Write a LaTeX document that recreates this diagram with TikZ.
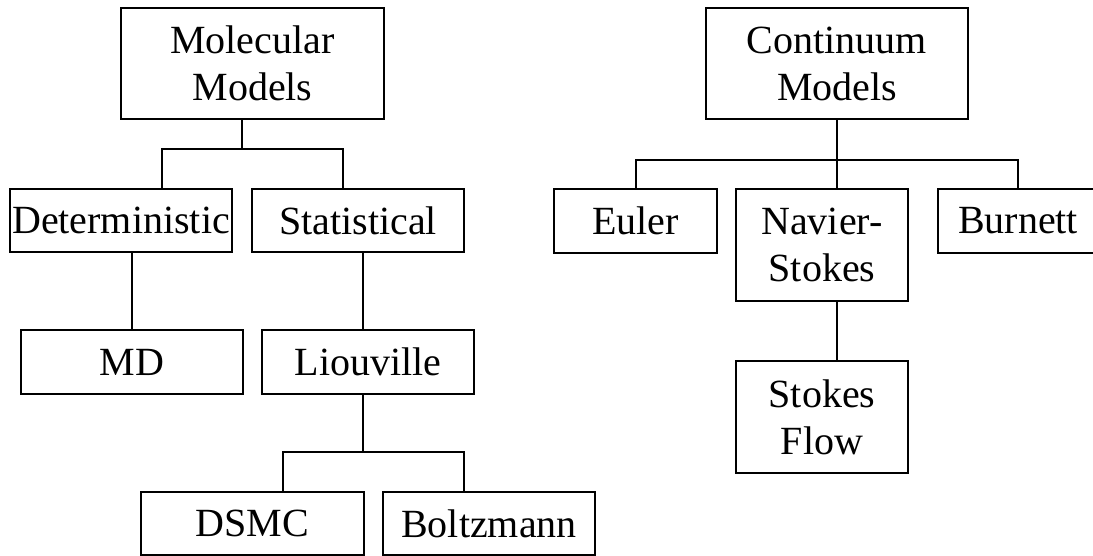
\documentclass[tikz,border=0pt]{standalone}
\usepackage{fontspec}
\setmainfont{Liberation Serif}
\usepackage{tikz}
\usetikzlibrary{positioning, calc}

\tikzset{
    modelbox/.style={draw, line width=1.6pt, inner sep=0pt, align=center,
        font=\fontsize{40pt}{47pt}\selectfont},
    link/.style={line width=1.6pt}
}

\begin{document}
\begin{tikzpicture}[x=1pt, y=-1pt]
    \useasboundingbox (0,0) rectangle (1093,556);
    % Molecular branch
    \node[modelbox, minimum width=263pt, minimum height=111pt] (molec) at (252.5,63.5) {Molecular\\Models};
    \node[modelbox, minimum width=222pt, minimum height=63pt] (determ) at (121,220.5) {Deterministic};
    \node[modelbox, minimum width=212pt, minimum height=63pt] (stat) at (358,220.5) {Statistical};
    \node[modelbox, minimum width=222pt, minimum height=64pt] (md) at (132,362) {MD};
    \node[modelbox, minimum width=212pt, minimum height=64pt] (liou) at (368,362) {Liouville};
    \node[modelbox, minimum width=223pt, minimum height=63pt] (dsmc) at (252.5,523.5) {DSMC};
    \node[modelbox, minimum width=212pt, minimum height=63pt] (boltz) at (489,523.5) {Boltzmann};
    % Continuum branch
    \node[modelbox, minimum width=262pt, minimum height=111pt] (contin) at (837,63.5) {Continuum\\Models};
    \node[modelbox, minimum width=163pt, minimum height=64pt] (euler) at (635.5,221) {Euler};
    \node[modelbox, minimum width=172pt, minimum height=112pt] (navier) at (822,245) {Navier-\\Stokes};
    \node[modelbox, minimum width=160pt, minimum height=64pt] (burnett) at (1018,221) {Burnett};
    \node[modelbox, minimum width=172pt, minimum height=112pt] (stokes) at (822,417) {Stokes\\Flow};
    % Junctions
    \coordinate (mj) at (242,149);
    \coordinate (lj) at (363,452);
    \coordinate (cj) at (837,160);
    % Connectors
    \draw[link] (molec.south -| mj) -- (mj);
    \draw[link] ([xshift=41pt]determ.north) |- (mj) -| ([xshift=-15pt]stat.north);
    \draw[link] (md.north) -- (md.north |- determ.south);
    \draw[link] ([xshift=-5pt]liou.north) -- ([xshift=-5pt]liou.north |- stat.south);
    \draw[link] (liou.south -| lj) -- (lj);
    \draw[link] ([xshift=30.5pt]dsmc.north) |- (lj) -| ([xshift=-25pt]boltz.north);
    \draw[link] (contin.south) -- (cj);
    \draw[link] ([xshift=0.5pt]euler.north) |- (cj) -| (burnett.north);
    \draw[link] (cj) -- (navier.north -| cj);
    \draw[link] (navier.south -| cj) -- (stokes.north -| cj);
\end{tikzpicture}
\end{document}
